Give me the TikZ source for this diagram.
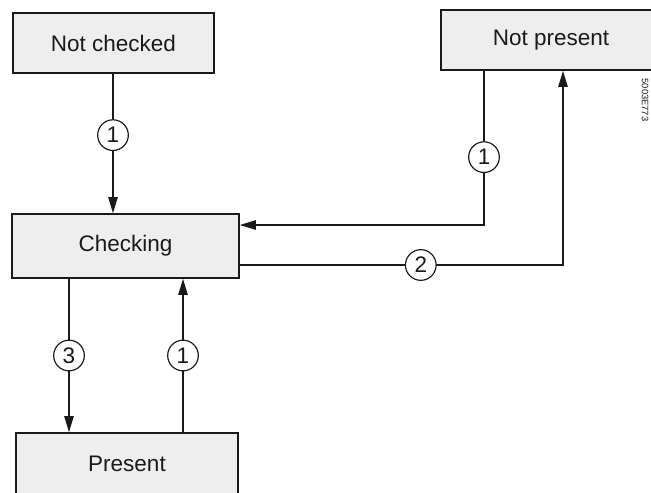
\documentclass[tikz,border=0pt]{standalone}
\usepackage{fontspec}
\setmainfont{Liberation Sans}
\usepackage{xcolor}
\usetikzlibrary{arrows.meta,positioning,calc}
\definecolor{cInk}{HTML}{1A1A1A}
\definecolor{cFill}{HTML}{EEEEEE}
\tikzset{
  stbox/.style={draw=cInk,fill=cFill,line width=1.3pt,inner sep=0pt,font=\fontsize{19.2}{23}\selectfont,text=cInk},
  arr/.style={-{Triangle[length=0.48cm,width=0.28cm]},line width=1.1pt,color=cInk},
  num/.style={circle,draw=cInk,fill=white,line width=1pt,minimum size=0.92cm,inner sep=0pt,font=\fontsize{19.2}{23}\selectfont,text=cInk},
}
\begin{document}
\begin{tikzpicture}[x=0.03cm,y=-0.03cm]
  \useasboundingbox (0,0) rectangle (651,492);
  \clip (0,0) rectangle (651,492);
  % states
  \node[stbox,minimum width=6.03cm,minimum height=1.8cm]  (nc)  at (113.5,43)  {Not checked};
  \node[stbox,minimum width=6.6cm,minimum height=1.8cm]   (np)  at (551,40)    {Not present};
  \node[stbox,minimum width=6.81cm,minimum height=1.92cm] (chk) at (125.5,246) {Checking};
  \node[stbox,minimum width=6.66cm,minimum height=1.86cm] (pr)  at (127,464)   {Present};
  % helper coordinates for the orthogonal legs
  \coordinate (npL)  at (484,0);
  \coordinate (npR)  at (563,0);
  \coordinate (chkA) at (0,225);
  \coordinate (chkB) at (0,265);
  \coordinate (chkL) at (69,0);
  \coordinate (chkR) at (183,0);
  \coordinate (ncX)  at (113,0);
  % transitions
  \draw[arr] (nc.south -| ncX) -- node[num,pos=0.44] {1} (chk.north -| ncX);
  \draw[arr] (np.south -| npL) |- node[num,pos=0.28] {1} (chk.east |- chkA);
  \draw[arr] (chk.east |- chkB) -| node[num,pos=0.28] {2} (np.south -| npR);
  \draw[arr] (chk.south -| chkL) -- node[num] {3} (pr.north -| chkL);
  \draw[arr] (pr.north -| chkR) -- node[num] {1} (chk.south -| chkR);
  % figure id at the right edge
  \node[font=\fontsize{8}{9}\selectfont,text=cInk,rotate=-90] (figid) at (645,100) {5003E773};
\end{tikzpicture}
\end{document}
